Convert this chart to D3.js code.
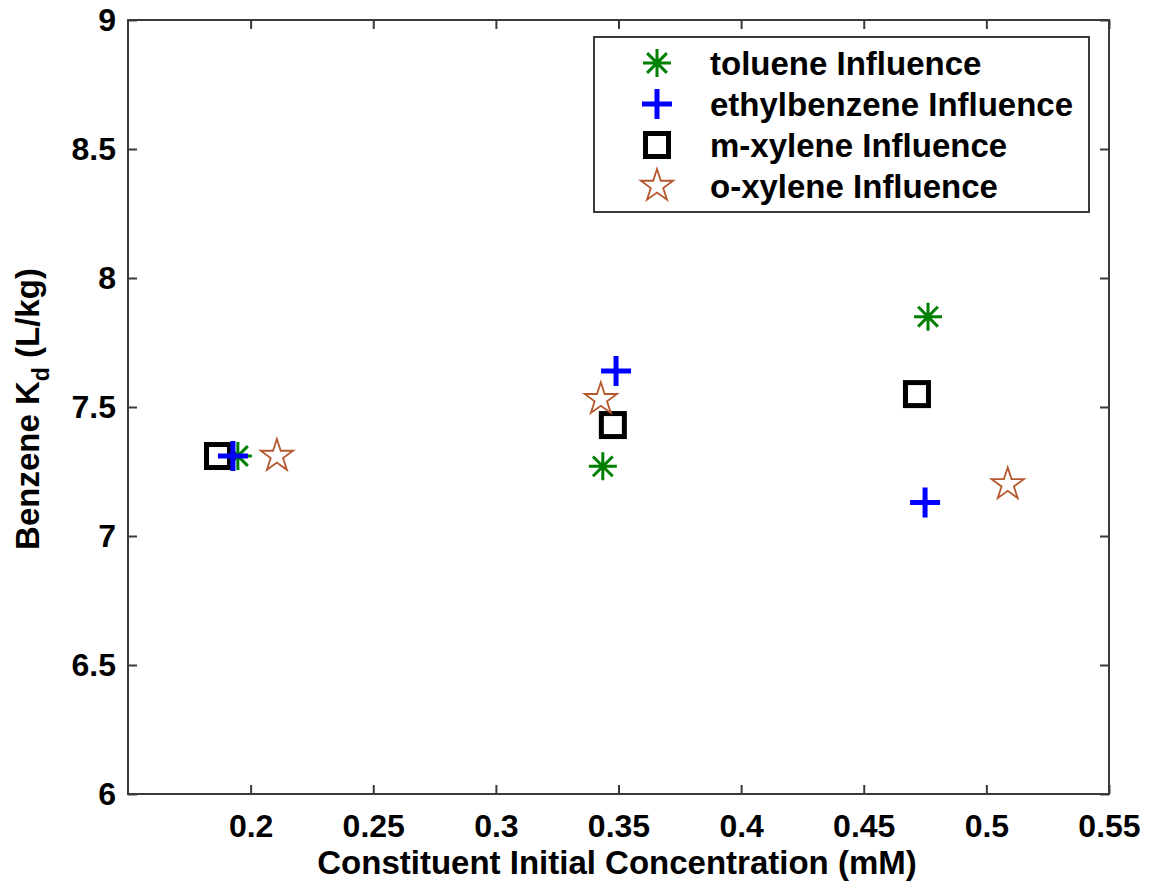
<!DOCTYPE html>
<html>
<head>
<meta charset="utf-8">
<script src="https://cdn.jsdelivr.net/npm/d3@7"></script>
<style>
  body { margin: 0; background: #fff; }
  text { font-family: Arial, "Liberation Sans", sans-serif; font-weight: bold; }
</style>
</head>
<body>
<svg id="chart" width="1153" height="884"></svg>
<script>
// Chart values
const seriesNames = ['toluene Influence', 'ethylbenzene Influence', 'm-xylene Influence', 'o-xylene Influence'];
const tolueneX = [0.1948, 0.3436, 0.4762];
const tolueneY = [7.31, 7.27, 7.85];
const ethylbenzeneX = [0.1928, 0.3490, 0.4750];
const ethylbenzeneY = [7.31, 7.64, 7.13];
const mXyleneX = [0.1867, 0.3477, 0.4717];
const mXyleneY = [7.31, 7.43, 7.55];
const oXyleneX = [0.2107, 0.3428, 0.5087];
const oXyleneY = [7.31, 7.53, 7.20];
const xTicks = [0.2, 0.25, 0.3, 0.35, 0.4, 0.45, 0.5, 0.55];
const yTicks = [6, 6.5, 7, 7.5, 8, 8.5, 9];

const svg = d3.select('#chart');
const margin = { left: 128, top: 20, right: 1153 - 1109, bottom: 884 - 794 };
const width = 1153 - margin.left - margin.right;
const height = 884 - margin.top - margin.bottom;

const x = d3.scaleLinear().domain([0.15, 0.55]).range([0, width]);
const y = d3.scaleLinear().domain([6, 9]).range([height, 0]);

const g = svg.append('g').attr('transform', `translate(${margin.left},${margin.top})`);

const TICK = 9;
const axisColor = '#3a3a3a';
const fmt = (d) => String(d);

// axes: ticks pointing inward on all four sides
const axB = g.append('g').attr('transform', `translate(0,${height})`)
  .call(d3.axisBottom(x).tickValues(xTicks).tickSize(-TICK).tickSizeOuter(0).tickPadding(20).tickFormat(fmt));
const axT = g.append('g')
  .call(d3.axisTop(x).tickValues(xTicks).tickSize(-TICK).tickSizeOuter(0).tickFormat(''));
const axL = g.append('g')
  .call(d3.axisLeft(y).tickValues(yTicks).tickSize(-TICK).tickSizeOuter(0).tickPadding(12).tickFormat(fmt));
const axR = g.append('g').attr('transform', `translate(${width},0)`)
  .call(d3.axisRight(y).tickValues(yTicks).tickSize(-TICK).tickSizeOuter(0).tickFormat(''));

[axB, axT, axL, axR].forEach((a) => {
  a.select('.domain').remove();
  a.selectAll('.tick line').attr('stroke', axisColor).attr('stroke-width', 2);
  a.selectAll('.tick text').attr('fill', '#000').style('font-size', '32px');
});

g.append('rect')
  .attr('width', width).attr('height', height)
  .attr('fill', 'none').attr('stroke', axisColor).attr('stroke-width', 2);

// axis titles
svg.append('text')
  .attr('x', 617).attr('y', 874)
  .attr('text-anchor', 'middle').style('font-size', '33px')
  .text('Constituent Initial Concentration (mM)');

const yt = svg.append('text')
  .attr('transform', `translate(39,${margin.top + height / 2 + 2}) rotate(-90)`)
  .attr('text-anchor', 'middle').style('font-size', '33px');
yt.append('tspan').text('Benzene K');
yt.append('tspan').attr('dy', 10).style('font-size', '23px').text('d');
yt.append('tspan').attr('dy', -10).text(' (L/kg)');

// marker shapes
const symbols = {
  asterisk: (s, r) => {
    const d = r * Math.SQRT1_2;
    s.append('path')
      .attr('d', `M${-r},0L${r},0M0,${-r}L0,${r}M${-d},${-d}L${d},${d}M${-d},${d}L${d},${-d}`);
  },
  plus: (s, r) => {
    s.append('path').attr('d', `M${-r},0L${r},0M0,${-r}L0,${r}`);
  },
  square: (s, r) => {
    s.append('rect').attr('x', -r).attr('y', -r).attr('width', 2 * r).attr('height', 2 * r);
  },
  star: (s, r) => {
    s.append('path').attr('d', d3.symbol(d3.symbolStar, (r * r) / 0.8908)());
  },
};

const series = [
  { name: seriesNames[0], xs: tolueneX, ys: tolueneY, shape: 'asterisk', r: 14, color: '#008000', sw: 3 },
  { name: seriesNames[2], xs: mXyleneX, ys: mXyleneY, shape: 'square', r: 11.5, color: '#000', sw: 5 },
  { name: seriesNames[1], xs: ethylbenzeneX, ys: ethylbenzeneY, shape: 'plus', r: 15, color: '#0000ff', sw: 5 },
  { name: seriesNames[3], xs: oXyleneX, ys: oXyleneY, shape: 'star', r: 17, color: '#b5582e', sw: 1.8 },
];

series.forEach((s) => {
  const pts = s.xs.map((v, i) => ({ x: v, y: s.ys[i] }));
  g.append('g').selectAll('g')
    .data(pts)
    .join('g')
    .attr('transform', (d) => `translate(${x(d.x)},${y(d.y)})`)
    .attr('fill', 'none').attr('stroke', s.color).attr('stroke-width', s.sw)
    .each(function () { symbols[s.shape](d3.select(this), s.r); });
});

// legend
const legend = svg.append('g').attr('transform', 'translate(594,37)');
legend.append('rect')
  .attr('width', 495).attr('height', 175)
  .attr('fill', '#fff').attr('stroke', axisColor).attr('stroke-width', 2);

const legendOrder = [series[0], series[2], series[1], series[3]];
legendOrder.forEach((s, i) => {
  const row = legend.append('g').attr('transform', `translate(0,${26 + i * 41})`);
  const m = row.append('g').attr('transform', 'translate(63,0)')
    .attr('fill', 'none').attr('stroke', s.color).attr('stroke-width', s.sw);
  symbols[s.shape](m, s.r);
  row.append('text').attr('x', 116).attr('y', 12).style('font-size', '33px').text(s.name);
});
</script>
</body>
</html>
